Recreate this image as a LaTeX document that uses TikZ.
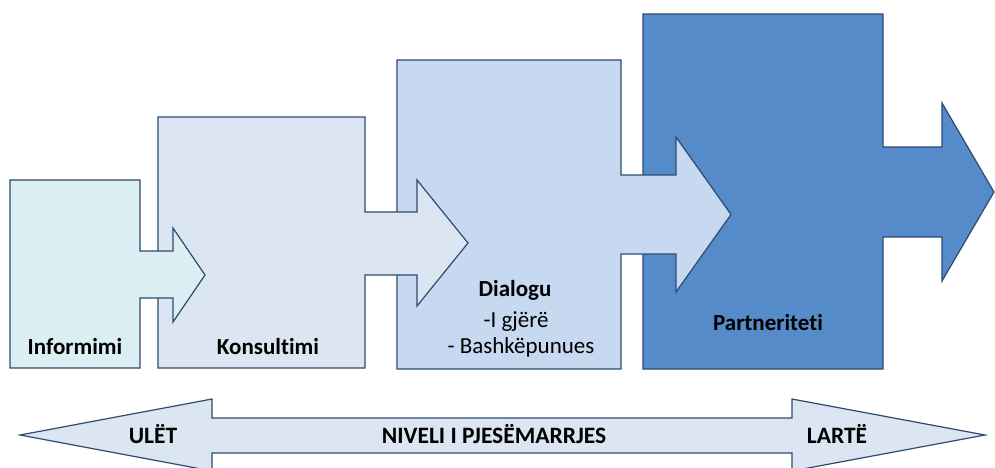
\documentclass[tikz,border=0pt]{standalone}
\usepackage{fontspec}
\setmainfont{Carlito}[Ligatures=NoCommon]
\definecolor{edge}{HTML}{2E4A70}
\definecolor{cA}{HTML}{DAEEF3}
\definecolor{cB}{HTML}{DCE6F2}
\definecolor{cC}{HTML}{C6D9F1}
\definecolor{cD}{HTML}{558BC8}
\begin{document}
\begin{tikzpicture}[x=1pt,y=-1pt,
  shp/.style={draw=edge, line width=1.2pt, line join=miter},
  bl/.style={anchor=base, inner sep=0pt, font=\fontsize{23}{27}\selectfont\bfseries},
  rl/.style={anchor=base, inner sep=0pt, font=\fontsize{23}{27}\selectfont},
  cl/.style={anchor=base, inner sep=0pt, font=\fontsize{23.5}{27}\selectfont\bfseries}]
\useasboundingbox (0,0) rectangle (995,467);
\clip (0,0) rectangle (995,467);
% stage 4
\draw[shp, fill=cD] (643,14) -- (883,14) -- (883,147) -- (942,147) -- (942,103) -- (994,192) -- (942,281) -- (942,237) -- (883,237) -- (883,369) -- (643,369) -- cycle;
% stage 3
\draw[shp, fill=cC] (397,60) -- (621,60) -- (621,175) -- (676,175) -- (676,137) -- (731,214.5) -- (676,292) -- (676,254) -- (621,254) -- (621,369) -- (397,369) -- cycle;
% stage 2
\draw[shp, fill=cB] (158,117) -- (365,117) -- (365,212) -- (417,212) -- (417,180) -- (468,243) -- (417,306) -- (417,275) -- (365,275) -- (365,368) -- (158,368) -- cycle;
% stage 1
\draw[shp, fill=cA] (10,180) -- (140,180) -- (140,251) -- (173,251) -- (173,228) -- (205,275) -- (173,322) -- (173,298) -- (140,298) -- (140,368) -- (10,368) -- cycle;
% bottom double arrow
\draw[shp, fill=cB] (20,435) -- (212,399) -- (212,418) -- (792,418) -- (792,399) -- (985,435) -- (792,471) -- (792,453) -- (212,453) -- (212,471) -- cycle;
% labels
\node[bl] (inf) at (75,354) {Informimi};
\node[bl] (kon) at (268,354) {Konsultimi};
\node[bl] (dia) at (515,296) {Dialogu};
\node[rl] (gje) at (516,327) {-I gjërë};
\node[rl] (bas) at (521,353) {- Bashkëpunues};
\node[bl] (par) at (768,330) {Partneriteti};
\node[cl] (ule) at (153,443) {ULËT};
\node[cl] (niv) at (494,443) {NIVELI I PJESËMARRJES};
\node[cl] (lar) at (837,443) {LARTË};
\end{tikzpicture}
\end{document}
